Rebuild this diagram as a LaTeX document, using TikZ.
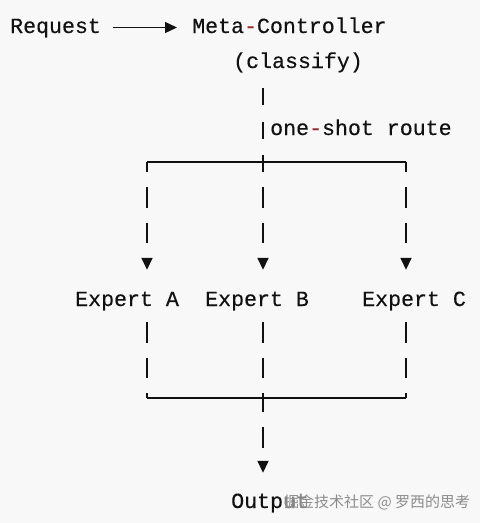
\documentclass[tikz,border=0pt]{standalone}
\usepackage{fontspec}
\setmonofont[FakeBold=0.3]{Liberation Mono}
\newfontfamily\cjkfont{Noto Sans CJK SC}
\usetikzlibrary{arrows.meta}
\definecolor{bgray}{HTML}{F8F8F8}
\definecolor{ink}{HTML}{111111}
\definecolor{hyph}{RGB}{150,40,40}
\newcommand{\hy}{\textcolor{hyph}{-}}

\begin{document}
\begin{tikzpicture}[x=1pt, y=-1pt]
    \tikzstyle{txt}=[inner sep=0pt, anchor=base west, text=ink, text height=15pt, text depth=4pt, font=\ttfamily\fontsize{21.6}{26}\selectfont]
    \tikzstyle{pipe}=[draw=ink, line width=1.6pt]
    \tikzstyle{branch}=[pipe, dash pattern=on 20.5pt off 15pt]
    \tikzstyle{tip}=[-{Triangle[length=12pt,width=11pt]}]

    \fill[bgray] (0,0) rectangle (480,523);
    \useasboundingbox (0,0) rectangle (480,523);

    \node[txt] (req)   at (10,33)  {Request};
    \node[txt] (meta)  at (192,33) {Meta\hy Controller};
    \node[txt] (cls)   at (233,68) {(classify)};
    \node[txt] (route) at (270,135) {one\hy shot route};
    \node[txt] (ea)    at (75,306)  {Expert A};
    \node[txt] (eb)    at (205,306) {Expert B};
    \node[txt] (ec)    at (362,306) {Expert C};
    \node[txt] (out)   at (231,508) {Output};

    \coordinate (tl) at (147,162);
    \coordinate (tm) at (263,162);
    \coordinate (tr) at (406,162);
    \coordinate (bl) at (147,398);
    \coordinate (bm) at (263,398);
    \coordinate (br) at (406,398);

    \draw[ink, line width=1.3pt, tip, shorten <=12pt, shorten >=15pt] (req.east) -- (meta.west);

    \draw[pipe, dash pattern=on 17pt off 16.5pt, shorten <=16pt] (cls.south -| tm) -- (tm);
    \draw[pipe] (tl) -- (tr);
    \draw[branch, dash phase=10.5pt, tip, shorten >=21pt] (tl) -- (ea.north -| tl);
    \draw[branch, dash phase=10.5pt, tip, shorten >=21pt] (tm) -- (eb.north -| tm);
    \draw[branch, dash phase=10.5pt, tip, shorten >=21pt] (tr) -- (ec.north -| tr);

    \draw[branch, shorten <=12pt] (ea.south -| bl) -- (bl);
    \draw[branch, shorten <=12pt] (eb.south -| bm) -- (bm);
    \draw[branch, shorten <=12pt] (ec.south -| br) -- (br);
    \draw[pipe] (bl) -- (br);
    \draw[pipe, dash pattern=on 21pt off 15pt, dash phase=7pt, tip, shorten >=20pt] (bm) -- (out.north -| bm);

    \node[anchor=base west, inner sep=1pt, fill=bgray, fill opacity=0.5, text opacity=1, text=black!45, font=\cjkfont\fontsize{15}{15}\selectfont] (wm) at (283,507) {掘金技术社区 @ 罗西的思考};
\end{tikzpicture}
\end{document}
